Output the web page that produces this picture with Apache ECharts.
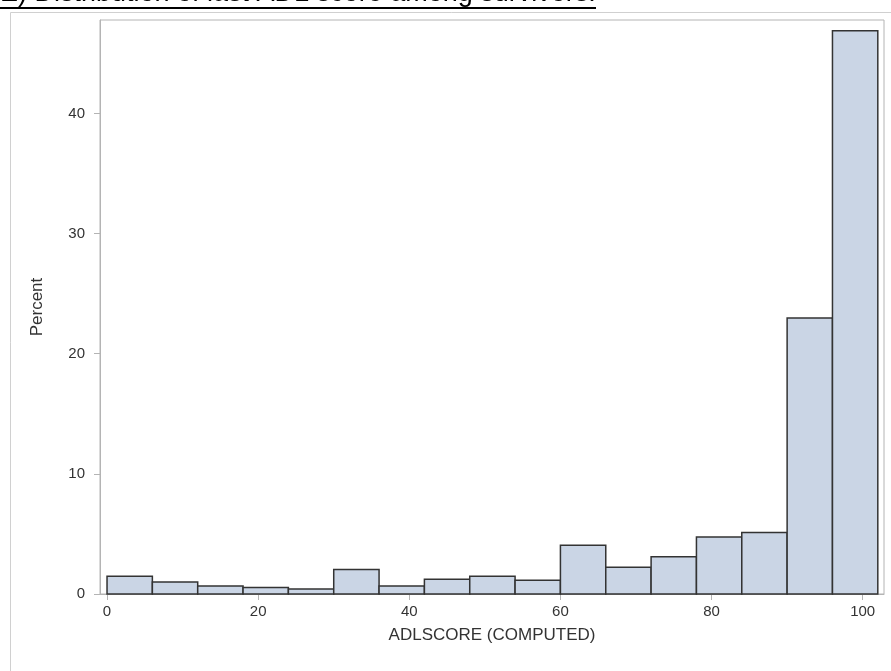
<!DOCTYPE html>
<html>
<head>
<meta charset="utf-8">
<script src="https://cdn.jsdelivr.net/npm/echarts@6/dist/echarts.min.js"></script>
<style>
html,body{margin:0;padding:0;background:#fff;}
#chart{width:891px;height:671px;}
</style>
</head>
<body>
<div id="chart"></div>
<script>
const titleText = 'E) Distribution of last ADL score among survivors:';
const xAxisName = 'ADLSCORE (COMPUTED)';
const yAxisName = 'Percent';
const binStart = [0, 6, 12, 18, 24, 30, 36, 42, 48, 54, 60, 66, 72, 78, 84, 90, 96];
const binEnd   = [6, 12, 18, 24, 30, 36, 42, 48, 54, 60, 66, 72, 78, 84, 90, 96, 102];
const percent  = [1.47, 1.0, 0.67, 0.55, 0.42, 2.03, 0.67, 1.22, 1.47, 1.14, 4.05, 2.22, 3.11, 4.74, 5.11, 22.96, 46.88];
const xTicks = [0, 20, 40, 60, 80, 100];
const yTicks = [0, 10, 20, 30, 40];

const data = binStart.map((s, i) => [s, binEnd[i], percent[i]]);

const FONT = 'Liberation Sans, Arial, sans-serif';
const chart = echarts.init(document.getElementById('chart'), null, {renderer: 'canvas'});
const axisGray = '#b4b4b4';
const labelColor = '#333333';
chart.setOption({
  animation: false,
  backgroundColor: '#ffffff',
  textStyle: {fontFamily: FONT},
  grid: {left: 100, top: 20, right: 7, bottom: 77, show: true, borderColor: axisGray, borderWidth: 1},
  xAxis: {
    type: 'value', min: -0.93, max: 102.82,
    name: xAxisName, nameLocation: 'middle', nameGap: 33,
    nameTextStyle: {fontSize: 17, color: labelColor, fontFamily: FONT},
    axisLine: {show: true, onZero: false, lineStyle: {color: axisGray, width: 1}},
    axisTick: {show: true, length: 6, lineStyle: {color: axisGray}, customValues: xTicks},
    axisLabel: {fontSize: 15, color: labelColor, margin: 10, customValues: xTicks, fontFamily: FONT},
    splitLine: {show: false}
  },
  yAxis: {
    type: 'value', min: 0, max: 47.77,
    name: yAxisName, nameLocation: 'middle', nameGap: 54, nameRotate: 90,
    nameTextStyle: {fontSize: 17, color: labelColor, fontFamily: FONT},
    axisLine: {show: true, onZero: false, lineStyle: {color: axisGray, width: 1}},
    axisTick: {show: true, length: 6, lineStyle: {color: axisGray}, customValues: yTicks},
    axisLabel: {fontSize: 15, color: labelColor, margin: 15, customValues: yTicks, fontFamily: FONT},
    splitLine: {show: false}
  },
  series: [{
    type: 'custom',
    data: data,
    encode: {x: [0, 1], y: 2},
    renderItem: function (params, api) {
      const p0 = api.coord([api.value(0), api.value(2)]);
      const p1 = api.coord([api.value(1), 0]);
      return {
        type: 'rect',
        shape: {x: p0[0], y: p0[1], width: p1[0] - p0[0], height: p1[1] - p0[1]},
        style: {fill: '#CAD5E5', stroke: '#333333', lineWidth: 1.5}
      };
    }
  }],
  graphic: [
    {type: 'rect', silent: true, z: -1, shape: {x: 10.5, y: 12.5, width: 900, height: 700},
     style: {fill: null, stroke: '#d0d0d0', lineWidth: 1}},
    {type: 'text', silent: true, x: 0, y: -6,
     style: {text: titleText, fill: '#000000', font: '27px "Liberation Sans", Arial, sans-serif', verticalAlign: 'middle', align: 'left'}},
    {type: 'line', silent: true, shape: {x1: 0, y1: 8, x2: 596, y2: 8},
     style: {stroke: '#000000', lineWidth: 2}}
  ]
});
</script>
</body>
</html>
